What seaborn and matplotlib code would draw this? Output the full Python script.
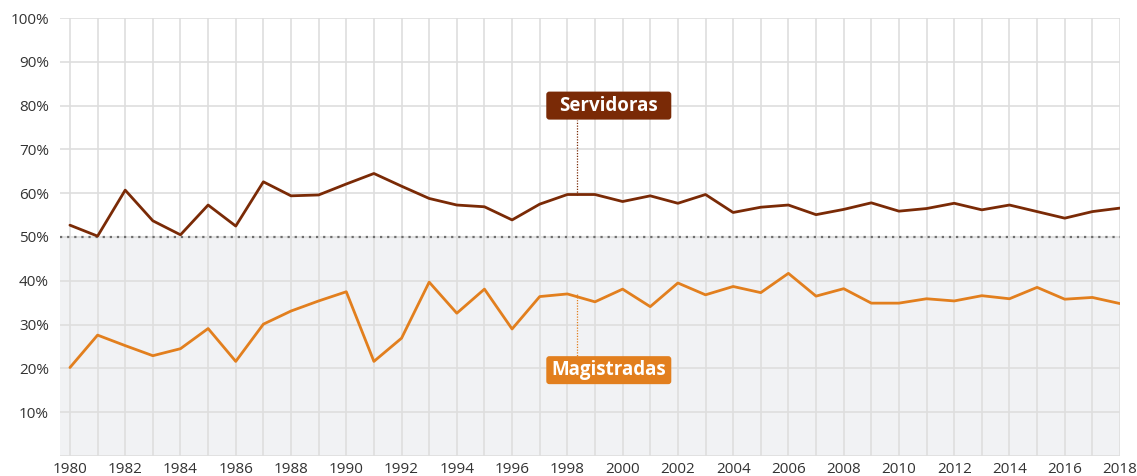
import matplotlib
matplotlib.use("Agg")
import matplotlib.pyplot as plt
import seaborn as sns
import pandas as pd
from matplotlib.patches import Rectangle, FancyBboxPatch
from matplotlib.transforms import IdentityTransform

years = list(range(1980, 2019))
servidoras = [52.7, 50.2, 60.7, 53.7, 50.5, 57.3, 52.5, 62.6, 59.4, 59.6,
              62.1, 64.5, 61.6, 58.8, 57.3, 56.9, 53.9, 57.5, 59.7, 59.7,
              58.1, 59.4, 57.7, 59.7, 55.6, 56.8, 57.3, 55.1, 56.3, 57.8,
              55.9, 56.5, 57.7, 56.2, 57.3, 55.8, 54.3, 55.8, 56.6]
magistradas = [20.2, 27.6, 25.2, 22.9, 24.5, 29.1, 21.6, 30.1, 33.1, 35.4,
               37.5, 21.6, 26.9, 39.7, 32.6, 38.1, 29.0, 36.4, 37.0, 35.2,
               38.1, 34.1, 39.5, 36.8, 38.7, 37.3, 41.7, 36.5, 38.2, 34.9,
               34.9, 35.9, 35.4, 36.6, 35.9, 38.5, 35.8, 36.2, 34.8]
series_names = ["Servidoras", "Magistradas"]
y_ticks = [10, 20, 30, 40, 50, 60, 70, 80, 90, 100]
x_ticks = list(range(1980, 2019, 2))

c_serv = "#7A2A06"
c_mag = "#E27F1E"

sns.set_theme(style="white")
plt.rcParams['font.family'] = ['Open Sans', 'DejaVu Sans']

df = pd.DataFrame({
    "year": years * 2,
    "value": servidoras + magistradas,
    "serie": [series_names[0]] * len(years) + [series_names[1]] * len(years),
})

fig = plt.figure(figsize=(11.37, 4.76), dpi=100)
ax = fig.add_axes([60 / 1137, 20 / 476, (1120 - 60) / 1137, (456 - 18) / 476])

ax.add_patch(Rectangle((1979.6, 0), 2018 - 1979.6, 50, facecolor="#F1F2F4",
                       edgecolor="none", zorder=0))
for yv in range(0, 101, 10):
    ax.axhline(yv, color="#DEDEDE", lw=1.2, zorder=1)
for xv in years:
    ax.axvline(xv, color="#DEDEDE", lw=1.2, zorder=1)
ax.axhline(50, color="#6E6E6E", lw=1.6, ls=(0, (1, 2.2)), zorder=2)

sns.lineplot(data=df, x="year", y="value", hue="serie",
             palette={series_names[0]: c_serv, series_names[1]: c_mag},
             lw=2, ax=ax, legend=False, zorder=3)

ax.set_xlim(1979.64, 2018)
ax.set_ylim(0, 100)
ax.set_xticks(x_ticks)
ax.set_xticklabels([str(x) for x in x_ticks])
ax.set_yticks(y_ticks)
ax.set_yticklabels([f"{v}%" for v in y_ticks])
ax.tick_params(axis="both", length=0, labelsize=11, colors="#333333")
ax.tick_params(axis="x", pad=4)
ax.tick_params(axis="y", pad=8)
for s in ax.spines.values():
    s.set_visible(False)
ax.set_xlabel("")
ax.set_ylabel("")

xc = 1998.34
ax.plot([xc, xc], [servidoras[18], 76.8], color=c_serv, lw=0.9, ls=(0, (1, 1.2)), zorder=3)
ax.plot([xc, xc], [magistradas[18], 22.9], color=c_mag, lw=0.9, ls=(0, (1, 1.2)), zorder=3)


def label(x, y, text, color):
    px, py = ax.transData.transform((x, y))
    w, h = 125, 28
    box = FancyBboxPatch((px - w / 2 + 3, py - h / 2 + 3), w - 6, h - 6,
                         boxstyle="round,pad=3", fc=color, ec="none",
                         transform=IdentityTransform(), zorder=5)
    fig.patches.append(box)
    fig.text(px / 1137, py / 476, text, ha="center", va="center", color="white",
             fontsize=13.5, fontweight="bold", zorder=6)


label(1999.5, 80, "Servidoras", c_serv)
label(1999.5, 19.6, "Magistradas", c_mag)

fig.savefig("out.png", dpi=100)
